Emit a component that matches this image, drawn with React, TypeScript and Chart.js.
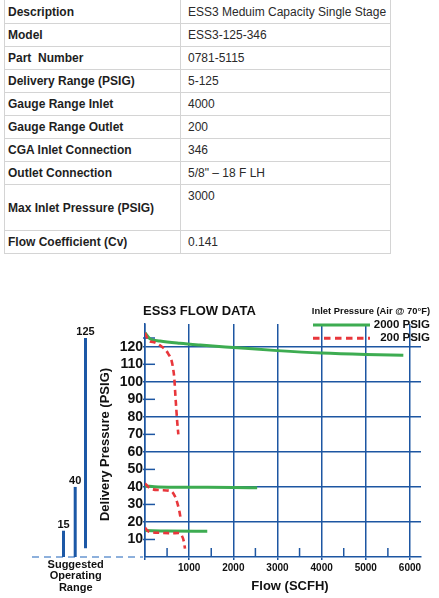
import React, { useEffect, useRef } from "react";
import { Chart, registerables } from "chart.js";

Chart.register(...registerables);

// ---------- table data ----------
const specLabels = [
  "Description",
  "Model",
  "Part  Number",
  "Delivery Range (PSIG)",
  "Gauge Range Inlet",
  "Gauge Range Outlet",
  "CGA Inlet Connection",
  "Outlet Connection",
  "Max Inlet Pressure (PSIG)",
  "Flow Coefficient (Cv)",
];
const specValues = [
  "ESS3 Meduim Capacity Single Stage",
  "ESS3-125-346",
  "0781-5115",
  "5-125",
  "4000",
  "200",
  "346",
  "5/8\" \u2013 18 F LH",
  "3000",
  "0.141",
];

// ---------- chart data ----------
const chartTitle = "ESS3 FLOW DATA";
const legendTitle = "Inlet Pressure (Air @ 70\u00b0F)";
const seriesLabels = ["2000 PSIG", "200 PSIG"];
const xTitle = "Flow (SCFH)";
const yTitle = "Delivery Pressure (PSIG)";
const rangeCaption = ["Suggested", "Operating", "Range"];

// 2000 PSIG inlet (green)
const g125Flow = [0, 110, 340, 790, 1250, 2000, 3000, 4000, 5000, 5850];
const g125Psig = [128, 124.6, 123.3, 122, 121, 119.6, 117.8, 116.4, 115.6, 115.2];
const g40Flow = [0, 300, 1000, 2000, 2540];
const g40Psig = [40.6, 40.0, 39.8, 39.7, 39.5];
const g15Flow = [0, 500, 1410];
const g15Psig = [15.1, 14.8, 14.7];

// 200 PSIG inlet (red dashed)
const r125Flow = [0, 75, 226, 340, 452, 527, 604, 640, 660, 694, 730, 755];
const r125Psig = [128, 123.8, 122.4, 120.8, 118.5, 116, 111.8, 107, 103, 90, 77, 70];
const r40Flow = [0, 113, 340, 560, 620, 680, 730, 775, 815];
const r40Psig = [42, 39.2, 38.2, 37.8, 37, 34.5, 31, 26.5, 21];
const r15Flow = [0, 60, 113, 340, 600, 760, 830, 882, 905];
const r15Psig = [16.8, 15, 14.3, 13.8, 13.6, 13.7, 12.4, 8.6, 4.8];

// suggested operating range
const rangeTops = [15, 40, 125];
const rangeBottoms = [0, 0, 5];

// axis ticks
const xTickValues = [0, 1000, 2000, 3000, 4000, 5000, 6000];
const yTickValues = [0, 10, 20, 30, 40, 50, 60, 70, 80, 90, 100, 110, 120];
const yMinorTicks = [10, 30, 50, 70, 90, 110, 125];
const xMinorTicks = [500, 1500, 2500, 3500, 4500, 5500];

// ---------- styles ----------
const BLUE = "#1d56a2";
const GREEN = "#3dac51";
const RED = "#e8373c";
const LIGHT_BLUE = "#8db0dc";
const FONT = '"Liberation Sans", Arial, Helvetica, sans-serif';
const TXT = "#111";

const rowHeights = [23, 23, 23, 23, 23, 23, 23, 23, 46, 23];

function mk(label: string, xs: number[], ys: number[], color: string, dashed: boolean) {
  return {
    label,
    data: xs.map((x, i) => ({ x, y: ys[i] })),
    borderColor: color,
    backgroundColor: color,
    borderWidth: dashed ? 2.6 : 3,
    borderDash: dashed ? [6, 4] : [],
    pointRadius: 0,
    fill: false,
    showLine: true,
    cubicInterpolationMode: "monotone" as const,
    order: dashed ? 0 : 1,
  };
}

const decorPlugin = {
  id: "decor",
  beforeDatasetsDraw(chart: any) {
    const { ctx, chartArea: a, scales } = chart;
    const x = scales.x;
    const y = scales.y;
    ctx.save();
    ctx.strokeStyle = BLUE;
    ctx.lineWidth = 1.5;
    yMinorTicks.forEach((v) => {
      const py = y.getPixelForValue(v);
      ctx.beginPath();
      ctx.moveTo(a.left - 2, py);
      ctx.lineTo(a.left + 10, py);
      ctx.stroke();
    });
    xMinorTicks.forEach((v) => {
      const px = x.getPixelForValue(v);
      ctx.beginPath();
      ctx.moveTo(px, a.bottom);
      ctx.lineTo(px, a.bottom - 9);
      ctx.stroke();
    });
    ctx.restore();
  },
  afterDraw(chart: any) {
    const { ctx, chartArea: a, scales } = chart;
    const y = scales.y;
    ctx.save();
    ctx.fillStyle = TXT;
    ctx.textBaseline = "middle";

    // title
    ctx.font = `bold 13px ${FONT}`;
    ctx.textAlign = "left";
    ctx.fillText(chartTitle, 143, 21);

    // legend
    ctx.font = `bold 9.4px ${FONT}`;
    ctx.textAlign = "right";
    ctx.fillText(legendTitle, 430, 21);
    const entries = [
      { label: seriesLabels[0], color: GREEN, dash: [] as number[], w: 3 },
      { label: seriesLabels[1], color: RED, dash: [6.5, 4.5], w: 3 },
    ];
    entries.forEach((e, i) => {
      const ly = 35 + i * 13.3;
      ctx.strokeStyle = e.color;
      ctx.lineWidth = e.w;
      ctx.setLineDash(e.dash);
      ctx.beginPath();
      ctx.moveTo(313, ly);
      ctx.lineTo(370, ly);
      ctx.stroke();
      ctx.setLineDash([]);
      ctx.font = `bold 11.5px ${FONT}`;
      ctx.fillStyle = TXT;
      ctx.fillText(e.label, 430, ly);
    });

    // axis titles
    ctx.font = `bold 13px ${FONT}`;
    ctx.textAlign = "center";
    ctx.fillText(xTitle, 290, 296);
    ctx.save();
    ctx.translate(105, (a.top + a.bottom) / 2 + 4);
    ctx.rotate(-Math.PI / 2);
    ctx.fillText(yTitle, 0, 0);
    ctx.restore();

    // suggested operating range
    const y0 = y.getPixelForValue(0);
    ctx.strokeStyle = LIGHT_BLUE;
    ctx.lineWidth = 2;
    ctx.setLineDash([7, 5]);
    ctx.beginPath();
    ctx.moveTo(32, y0);
    ctx.lineTo(a.left - 2, y0);
    ctx.stroke();
    ctx.setLineDash([]);

    const barX = [63.5, 75.2, 85.5];
    rangeTops.forEach((v, i) => {
      const top = y.getPixelForValue(v);
      const bot = y.getPixelForValue(rangeBottoms[i]);
      ctx.fillStyle = "#1c58a6";
      ctx.fillRect(barX[i] - 1.5, top, 3, bot - top);
      ctx.fillStyle = TXT;
      ctx.font = `bold 11px ${FONT}`;
      ctx.textAlign = "center";
      ctx.fillText(String(v), barX[i], top - 6);
    });
    ctx.font = `bold 11px ${FONT}`;
    ctx.textAlign = "center";
    rangeCaption.forEach((t, i) => ctx.fillText(t, 75.7, 275 + i * 11.3));
    ctx.restore();
  },
};

function FlowChart() {
  const ref = useRef<HTMLCanvasElement | null>(null);
  useEffect(() => {
    if (!ref.current) return;
    const chart = new Chart(ref.current, {
      type: "line",
      data: {
        datasets: [
          mk(seriesLabels[0], g125Flow, g125Psig, GREEN, false),
          mk(seriesLabels[0], g40Flow, g40Psig, GREEN, false),
          mk(seriesLabels[0], g15Flow, g15Psig, GREEN, false),
          mk(seriesLabels[1], r125Flow, r125Psig, RED, true),
          mk(seriesLabels[1], r40Flow, r40Psig, RED, true),
          mk(seriesLabels[1], r15Flow, r15Psig, RED, true),
        ] as any,
      },
      options: {
        animation: false,
        responsive: false,
        devicePixelRatio: 1,
        events: [],
        layout: { padding: { top: 34, right: 18, left: 0, bottom: 0 } },
        plugins: {
          legend: { display: false },
          title: { display: false },
          tooltip: { enabled: false },
        },
        scales: {
          x: {
            type: "linear",
            min: 0,
            max: 6250,
            afterBuildTicks: (s: any) => {
              s.ticks = xTickValues.map((v) => ({ value: v }));
            },
            ticks: {
              padding: 2,
              maxRotation: 0,
              minRotation: 0,
              autoSkip: false,
              color: TXT,
              font: { family: FONT, weight: "bold", size: 10 },
              callback: (v: any) => (v === 0 ? "" : String(v)),
            },
            grid: {
              color: BLUE,
              lineWidth: 1.5,
              tickLength: 3,
            },
            border: { color: BLUE, width: 1.5 },
            afterFit: (s: any) => {
              s.height = 41;
            },
          },
          y: {
            type: "linear",
            min: 0,
            max: 133,
            afterBuildTicks: (s: any) => {
              s.ticks = yTickValues.map((v) => ({ value: v }));
            },
            ticks: {
              padding: 0,
              autoSkip: false,
              color: TXT,
              font: { family: FONT, weight: "bold", size: 14 },
              callback: (v: any) => (v === 0 ? "" : String(v)),
            },
            grid: {
              color: (c: any) =>
                c.tick && c.tick.value > 0 && c.tick.value % 20 === 0 ? BLUE : "rgba(0,0,0,0)",
              lineWidth: 1.5,
              tickLength: 2,
            },
            border: { color: BLUE, width: 1.5 },
            afterFit: (s: any) => {
              s.width = 145;
            },
          },
        },
      } as any,
      plugins: [decorPlugin],
    });
    return () => chart.destroy();
  }, []);
  return (
    <canvas
      ref={ref}
      width={439}
      height={308}
      style={{ position: "absolute", left: 0, top: 290, width: 439, height: 308 }}
    />
  );
}

function SpecTable() {
  let top = 0;
  const border = "1px solid #d4d4d4";
  return (
    <>
      {specLabels.map((label, i) => {
        const h = rowHeights[i];
        const t = top;
        top += h;
        const last = i === specLabels.length - 1;
        const tall = h > 30;
        return (
          <React.Fragment key={i}>
            <div
              style={{
                position: "absolute",
                left: 4,
                top: t,
                width: 176,
                height: h + (last ? 1 : 0),
                boxSizing: "border-box",
                borderLeft: border,
                borderTop: i === 0 ? "none" : border,
                borderBottom: last ? border : "none",
                display: "flex",
                alignItems: "center",
                paddingLeft: 3,
                fontWeight: "bold",
                fontSize: 12,
                color: "#1e1e1e",
                whiteSpace: "pre",
              }}
            >
              {label}
            </div>
            <div
              style={{
                position: "absolute",
                left: 180,
                top: t,
                width: 211,
                height: h + (last ? 1 : 0),
                boxSizing: "border-box",
                borderLeft: border,
                borderRight: border,
                borderTop: i === 0 ? "none" : border,
                borderBottom: last ? border : "none",
                display: "flex",
                alignItems: tall ? "flex-start" : "center",
                paddingTop: tall ? 4 : 0,
                paddingLeft: 7,
                fontSize: 12,
                color: "#2a2a2a",
                whiteSpace: "pre",
              }}
            >
              {specValues[i]}
            </div>
          </React.Fragment>
        );
      })}
    </>
  );
}

export default function App() {
  return (
    <div
      style={{
        position: "absolute",
        left: 0,
        top: 0,
        width: 439,
        height: 598,
        background: "#fff",
        fontFamily: FONT,
        overflow: "hidden",
      }}
    >
      <SpecTable />
      <FlowChart />
    </div>
  );
}
